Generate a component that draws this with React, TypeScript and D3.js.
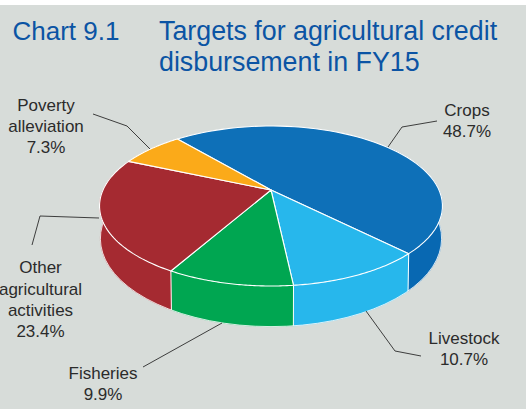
import React from "react";
import * as d3 from "d3";

const categories = ["Crops", "Livestock", "Fisheries", "Other agricultural activities", "Poverty alleviation"];
const shares = [48.7, 10.7, 9.9, 23.4, 7.3];
const faceColors = ["#0e70b8", "#27b7ec", "#00a651", "#a52a31", "#fbaa19"];
const wallColors = ["#0868b2", "#27b7ec", "#00a651", "#a52a31", "#fbaa19"];

const titleLines = ["Targets for agricultural credit", "disbursement in FY15"];

const labels = [
  { lines: ["Crops", "48.7%"], x: 467, y: [116, 137] },
  { lines: ["Livestock", "10.7%"], x: 464, y: [344, 365] },
  { lines: ["Fisheries", "9.9%"], x: 103, y: [379, 400] },
  { lines: ["Other", "agricultural", "activities", "23.4%"], x: 40.5, y: [273, 295, 316, 337] },
  { lines: ["Poverty", "alleviation", "7.3%"], x: 46, y: [111, 132, 153] },
];

const leaders: [number, number][][] = [
  [[437, 121], [402, 127], [388, 147]],
  [[366, 311], [395, 351], [421, 356]],
  [[222, 323], [143, 367]],
  [[99, 218], [40, 216], [32, 245]],
  [[93, 114], [127, 126], [150, 149]],
];

// Perspective projection of the unit disc: the centre of the disc sits above
// the centre of the drawn ellipse because the near edge is enlarged.
const cx = 271;
const topY = 190;
const A = 168;
const B = 76.8;
const k = 0.2;
const bottomY = 221;
const bottomScaleX = 0.995;
const bottomScaleY = 1.1;

type Pt = [number, number];
const onTop = (a: number): Pt => {
  const s = 1 + k * Math.cos(a);
  return [cx + (A * Math.sin(a)) / s, topY - (B * Math.cos(a)) / s];
};
const onBottom = (a: number): Pt => {
  const s = 1 + k * Math.cos(a);
  return [cx + (bottomScaleX * A * Math.sin(a)) / s, bottomY - (bottomScaleY * B * Math.cos(a)) / s];
};

const startAngle = (-40 * Math.PI) / 180;
const slices = d3
  .pie<number>()
  .sort(null)
  .startAngle(startAngle)
  .endAngle(startAngle + 2 * Math.PI)(shares);

const sampleArc = (a0: number, a1: number) => d3.range(0, 61).map((i) => a0 + ((a1 - a0) * i) / 60);
const line = d3.line<Pt>();

// The back of the rim is hidden by the top face, so this range may run wide.
const frontFrom = Math.PI / 2 - 0.7;
const frontTo = (3 * Math.PI) / 2 + 0.7;

export default function App() {
  const walls = slices
    .map((s, i) => {
      const a0 = Math.max(s.startAngle, frontFrom);
      const a1 = Math.min(s.endAngle, frontTo);
      if (a1 <= a0) return null;
      const angles = sampleArc(a0, a1);
      const pts = [...angles.map(onTop), ...angles.slice().reverse().map(onBottom)];
      return { i, d: line(pts) + "Z" };
    })
    .filter(Boolean) as { i: number; d: string }[];

  const seams = slices
    .map((s) => s.endAngle)
    .filter((a) => a > Math.PI / 2 && a < (3 * Math.PI) / 2 - 0.2);

  const rimOutline = line(sampleArc(frontFrom, frontTo).map(onBottom)) as string;

  return (
    <svg
      width={526}
      height={409}
      style={{ position: "absolute", left: 0, top: 0, display: "block" }}
      fontFamily="'Liberation Sans', Arial, sans-serif"
    >
      <rect width={526} height={409} fill="#fff" />
      <rect y={5} width={526} height={404} fill="#d7dcd9" />

      <g fill="#0b54a4" fontSize={26.8}>
        <text x={12.5} y={40} fontSize={26}>Chart 9.1</text>
        {titleLines.map((t, i) => (
          <text key={t} x={159} y={40 + i * 31}>{t}</text>
        ))}
      </g>

      {walls.map(({ i, d }) => (
        <path key={categories[i]} d={d} fill={wallColors[i]} stroke={wallColors[i]} strokeWidth={0.5} />
      ))}
      <path d={rimOutline} fill="none" stroke="#fff" strokeWidth={0.8} />
      {seams.map((a) => (
        <path key={a} d={line([onTop(a), onBottom(a)]) as string} stroke="#fff" strokeWidth={1} fill="none" />
      ))}

      {slices.map((s, i) => {
        const rim = sampleArc(s.startAngle, s.endAngle).map(onTop);
        const d = line([[cx, topY], ...rim]) + "Z";
        return (
          <path key={categories[i]} d={d} fill={faceColors[i]} stroke="#fff" strokeWidth={1.1} strokeLinejoin="round" />
        );
      })}

      <g fill="none" stroke="#2b2b2b" strokeWidth={0.9}>
        {leaders.map((pts, i) => (
          <path key={i} d={line(pts) as string} />
        ))}
      </g>

      <g fill="#2b2b2b" fontSize={17} textAnchor="middle">
        {labels.map((l) =>
          l.lines.map((t, j) => (
            <text key={t} x={l.x} y={l.y[j]}>{t}</text>
          ))
        )}
      </g>
    </svg>
  );
}
